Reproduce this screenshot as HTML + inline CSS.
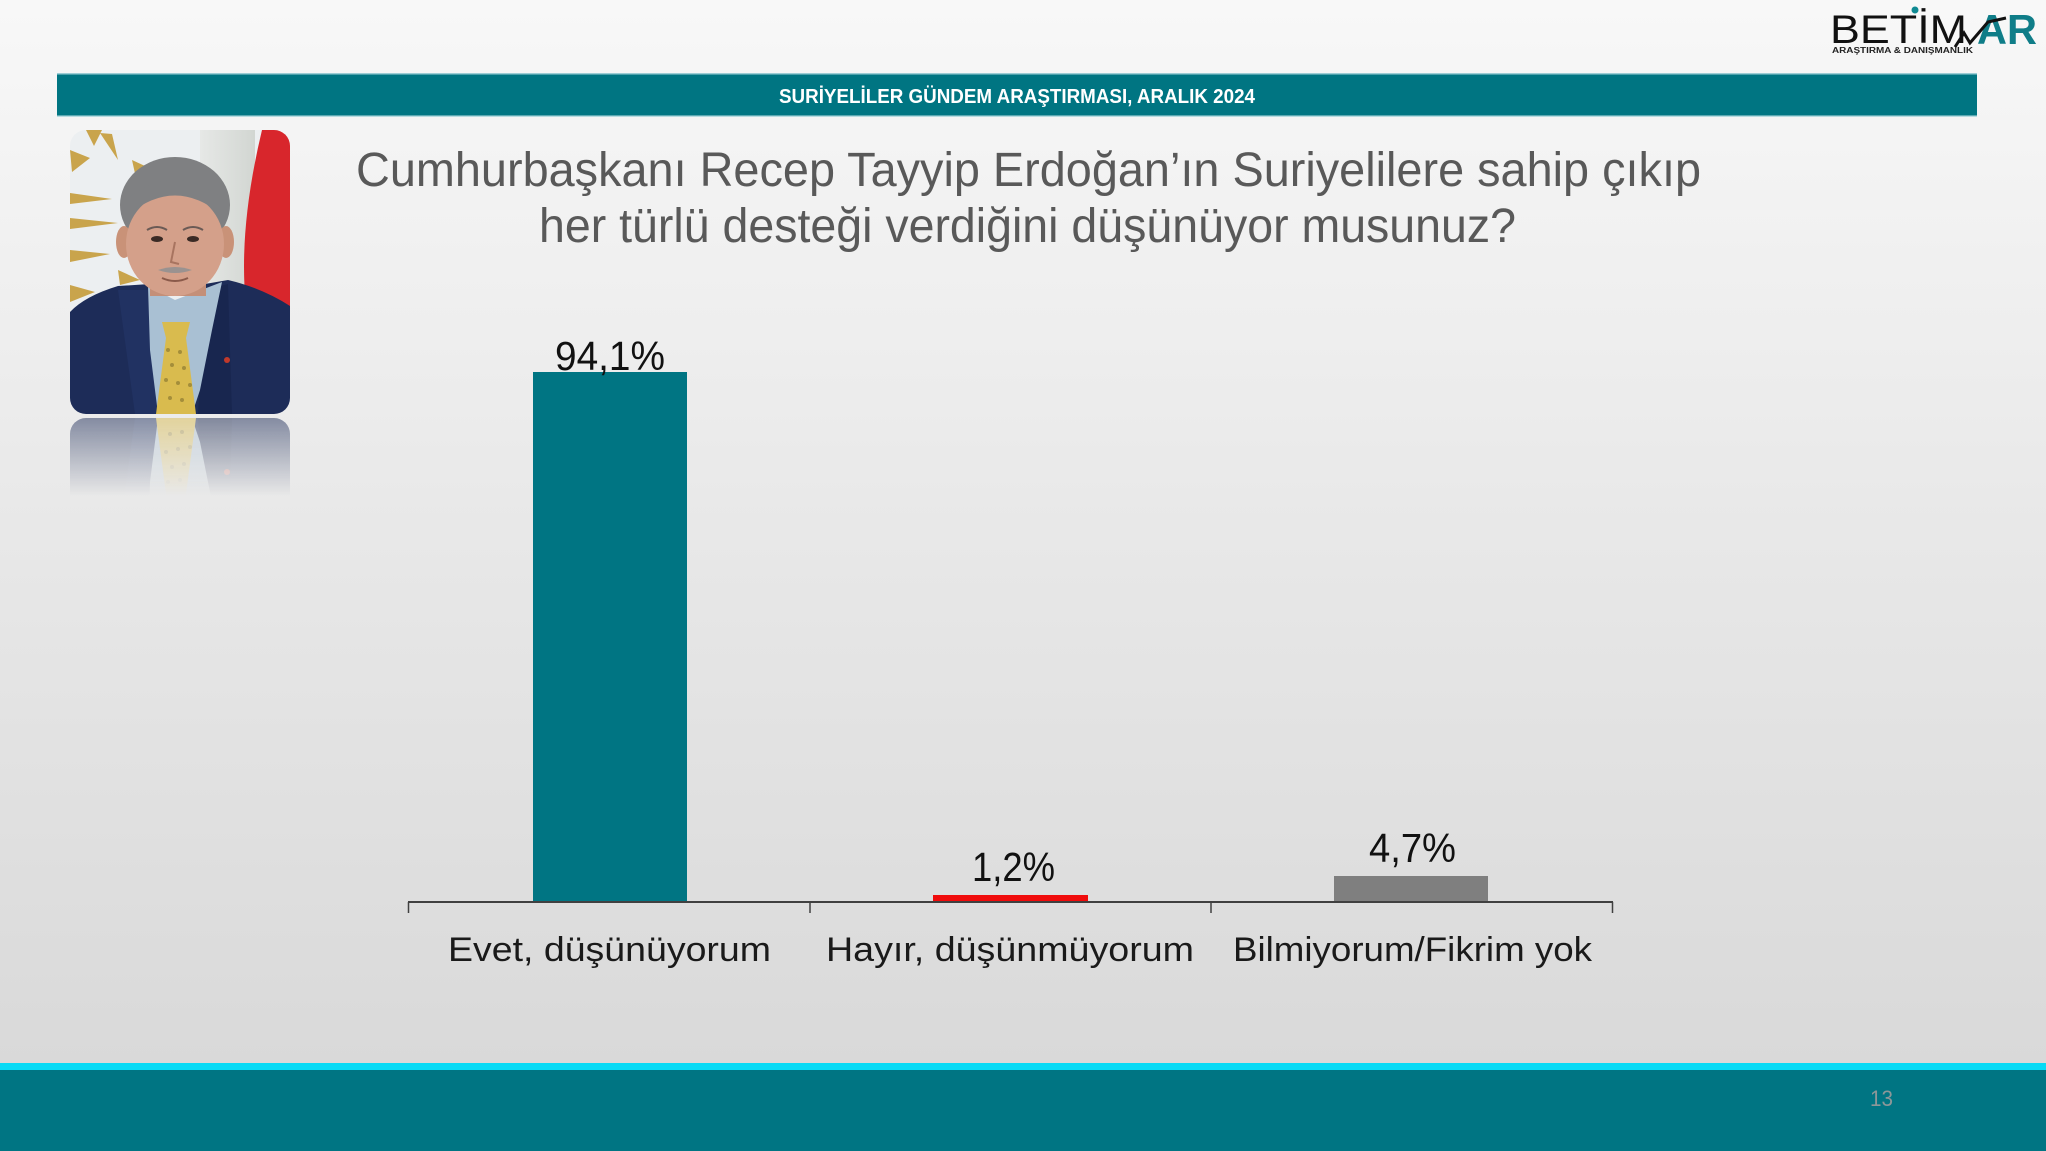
<!DOCTYPE html>
<html>
<head>
<meta charset="utf-8">
<style>
html,body{margin:0;padding:0;width:2046px;height:1151px;overflow:hidden;background:#eee;}
svg{display:block;}
</style>
</head>
<body>
<svg width="2046" height="1151" viewBox="0 0 2046 1151" xmlns="http://www.w3.org/2000/svg">
<defs>
  <linearGradient id="bg" x1="0" y1="0" x2="0" y2="1063" gradientUnits="userSpaceOnUse">
    <stop offset="0" stop-color="#f8f8f8"/>
    <stop offset="0.5" stop-color="#e8e8e8"/>
    <stop offset="1" stop-color="#d9d9d9"/>
  </linearGradient>
  <clipPath id="pclip">
    <rect x="70" y="130" width="220" height="284" rx="16" ry="16"/>
  </clipPath>
  <linearGradient id="refl" x1="0" y1="418" x2="0" y2="496" gradientUnits="userSpaceOnUse">
    <stop offset="0" stop-color="#fff" stop-opacity="0.5"/>
    <stop offset="1" stop-color="#fff" stop-opacity="0"/>
  </linearGradient>
  <mask id="rmask" maskUnits="userSpaceOnUse" x="60" y="410" width="240" height="100">
    <rect x="60" y="410" width="240" height="100" fill="url(#refl)"/>
  </mask>
  <linearGradient id="col" x1="0" y1="0" x2="1" y2="0">
    <stop offset="0" stop-color="#e6e8e6"/>
    <stop offset="1" stop-color="#d2d6d2"/>
  </linearGradient>
  <g id="photo">
    <g clip-path="url(#pclip)">
      <rect x="70" y="130" width="220" height="284" fill="#eceff1"/>
      <rect x="200" y="130" width="55" height="284" fill="url(#col)"/>
      <g fill="#c9a44c">
        <polygon points="70,218 118,223 70,229"/>
        <polygon points="70,193 112,199 70,204"/>
        <polygon points="70,250 110,254 70,262"/>
        <polygon points="70,285 95,292 70,302"/>
        <polygon points="70,150 90,158 72,172"/>
        <polygon points="100,133 118,160 112,134"/>
        <polygon points="132,160 158,172 136,178"/>
        <polygon points="118,270 140,280 120,285"/>
        <polygon points="86,130 102,130 94,146"/>
      </g>
      <path d="M262,130 L290,130 L290,312 L246,306 Q238,230 262,130 Z" fill="#d8262c"/>
      <path d="M70,414 L70,312 Q85,296 118,286 L150,284 L178,330 L205,284 L228,280 Q262,288 290,306 L290,414 Z" fill="#1d2c58"/>
      <path d="M118,290 L150,290 L160,414 L135,414 Z" fill="#243566" opacity="0.7"/>
      <path d="M228,284 L205,290 L198,414 L232,414 Z" fill="#17244c" opacity="0.7"/>
      <polygon points="148,286 175,300 222,282 212,330 200,390 192,414 158,414 150,350" fill="#a9c0d3"/>
      <rect x="150" y="262" width="56" height="34" fill="#c48f78"/>
      <polygon points="162,322 190,322 186,338 196,414 156,414 166,338" fill="#d9bb4e"/>
      <g fill="#7a6a2a" opacity="0.55">
        <circle cx="168" cy="350" r="2"/><circle cx="180" cy="352" r="2"/>
        <circle cx="172" cy="365" r="2"/><circle cx="184" cy="368" r="2"/>
        <circle cx="166" cy="380" r="2"/><circle cx="178" cy="383" r="2"/><circle cx="190" cy="385" r="2"/>
        <circle cx="170" cy="398" r="2"/><circle cx="182" cy="400" r="2"/>
      </g>
      <ellipse cx="175" cy="205" rx="55" ry="48" fill="#7f8082"/>
      <ellipse cx="124" cy="242" rx="8" ry="16" fill="#c99278"/>
      <ellipse cx="226" cy="242" rx="8" ry="16" fill="#c99278"/>
      <ellipse cx="175" cy="244" rx="49" ry="52" fill="#d4a08a"/>
      <path d="M128,215 Q175,176 222,215 L222,198 Q175,162 128,198 Z" fill="#7f8082"/>
      <ellipse cx="157" cy="239" rx="6" ry="3" fill="#3a2a25"/>
      <ellipse cx="193" cy="239" rx="6" ry="3" fill="#3a2a25"/>
      <path d="M147,230 Q157,224 167,230" stroke="#6a5a55" stroke-width="2" fill="none"/>
      <path d="M183,230 Q193,224 203,230" stroke="#6a5a55" stroke-width="2" fill="none"/>
      <path d="M175,242 L171,262 L179,264" stroke="#a87460" stroke-width="2" fill="none"/>
      <path d="M158,270 Q175,264 192,270 Q175,276 158,270 Z" fill="#9a9290"/>
      <path d="M162,278 Q175,284 188,278" stroke="#8a5a4a" stroke-width="2" fill="none"/>
      <circle cx="227" cy="360" r="3" fill="#c0392b"/>
    </g>
  </g>
</defs>

<rect x="0" y="0" width="2046" height="1151" fill="url(#bg)"/>

<!-- logo -->
<text x="1830" y="43" font-family="Liberation Sans, sans-serif" font-size="40" fill="#111" textLength="137" lengthAdjust="spacingAndGlyphs">BETİM</text>
<circle cx="1915" cy="10" r="3.5" fill="#0f8a93"/>
<text x="1977" y="44" font-family="Liberation Sans, sans-serif" font-size="42" font-weight="bold" fill="#0f7d88" textLength="60" lengthAdjust="spacingAndGlyphs">AR</text>
<polyline points="1955,47 1964,33 1970,43 1988,22 2006,18" fill="none" stroke="#111" stroke-width="3"/>
<text x="1832" y="53" font-family="Liberation Sans, sans-serif" font-size="8" font-weight="bold" fill="#222" textLength="141" lengthAdjust="spacingAndGlyphs">ARAŞTIRMA &amp; DANIŞMANLIK</text>

<!-- banner -->
<rect x="57" y="74" width="1920" height="42" fill="#007582"/>
<rect x="57" y="73" width="1920" height="1.5" fill="#9ccdd5"/>
<rect x="57" y="115.5" width="1920" height="1.5" fill="#b6dbe0"/>
<text x="1017" y="103" text-anchor="middle" font-family="Liberation Sans, sans-serif" font-size="20" font-weight="bold" fill="#ffffff" textLength="476" lengthAdjust="spacingAndGlyphs">SURİYELİLER GÜNDEM ARAŞTIRMASI, ARALIK 2024</text>

<!-- photo -->
<use href="#photo"/>
<g mask="url(#rmask)">
  <g transform="translate(0,832) scale(1,-1)">
    <use href="#photo"/>
  </g>
</g>

<!-- title -->
<text x="356" y="186" font-family="Liberation Sans, sans-serif" font-size="48" fill="#595959" textLength="1345" lengthAdjust="spacingAndGlyphs">Cumhurbaşkanı Recep Tayyip Erdoğan’ın Suriyelilere sahip çıkıp</text>
<text x="539" y="242" font-family="Liberation Sans, sans-serif" font-size="48" fill="#595959" textLength="977" lengthAdjust="spacingAndGlyphs">her türlü desteği verdiğini düşünüyor musunuz?</text>

<!-- bars -->
<rect x="533" y="372" width="154" height="530" fill="#007583"/>
<rect x="933" y="895" width="155" height="7" fill="#f00c0c"/>
<rect x="1334" y="876" width="154" height="26" fill="#7f7f7f"/>

<!-- axis -->
<line x1="408" y1="902" x2="1613" y2="902" stroke="#404040" stroke-width="2"/>
<g stroke="#404040" stroke-width="1.5">
  <line x1="408.5" y1="902" x2="408.5" y2="913"/>
  <line x1="810" y1="902" x2="810" y2="913"/>
  <line x1="1211" y1="902" x2="1211" y2="913"/>
  <line x1="1612.5" y1="902" x2="1612.5" y2="913"/>
</g>

<!-- value labels -->
<g font-family="Liberation Sans, sans-serif" font-size="41" fill="#111">
  <text x="555" y="370" textLength="110" lengthAdjust="spacingAndGlyphs">94,1%</text>
  <text x="972" y="881" textLength="83" lengthAdjust="spacingAndGlyphs">1,2%</text>
  <text x="1369" y="862" textLength="87" lengthAdjust="spacingAndGlyphs">4,7%</text>
</g>

<!-- category labels -->
<g font-family="Liberation Sans, sans-serif" font-size="34" fill="#1a1a1a">
  <text x="448" y="961" textLength="323" lengthAdjust="spacingAndGlyphs">Evet, düşünüyorum</text>
  <text x="826" y="961" textLength="368" lengthAdjust="spacingAndGlyphs">Hayır, düşünmüyorum</text>
  <text x="1233" y="961" textLength="359" lengthAdjust="spacingAndGlyphs">Bilmiyorum/Fikrim yok</text>
</g>

<!-- footer -->
<rect x="0" y="1063" width="2046" height="7" fill="#08daf5"/>
<rect x="0" y="1070" width="2046" height="81" fill="#007583"/>
<text x="1870" y="1106" font-family="Liberation Sans, sans-serif" font-size="22" fill="#8d9798" textLength="23" lengthAdjust="spacingAndGlyphs">13</text>
</svg>
</body>
</html>
